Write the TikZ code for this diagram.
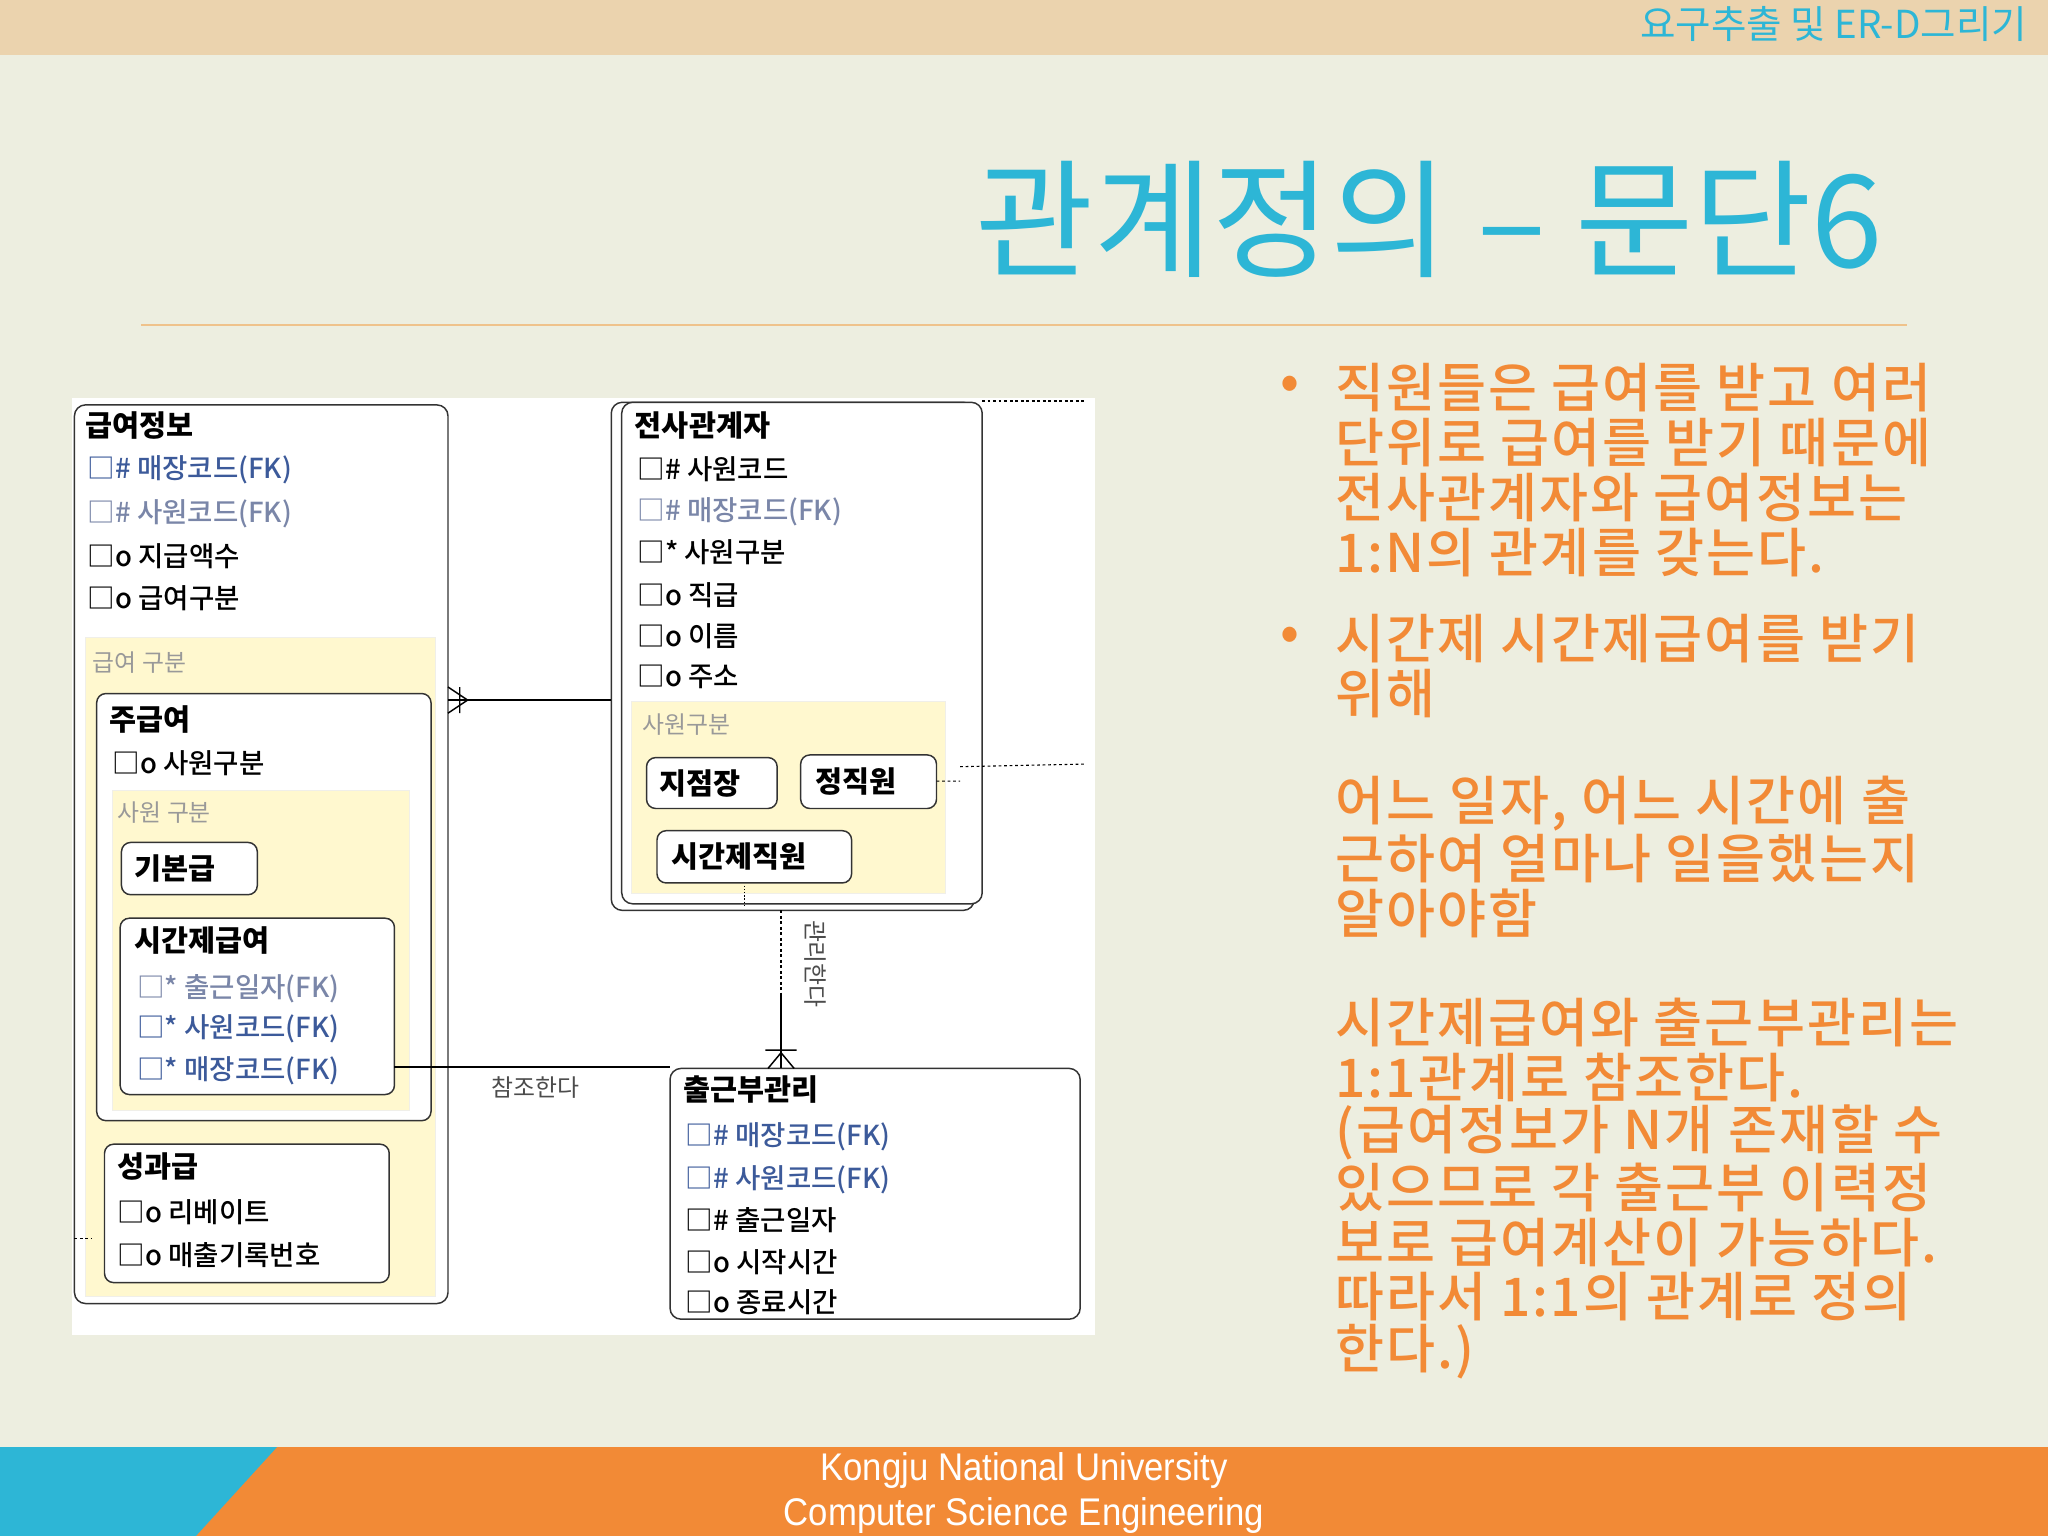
\documentclass[tikz,border=0pt]{standalone}
\usepackage{fontspec}
\setmainfont{Liberation Sans}
\newfontfamily\kr{Noto Sans CJK KR}
\newfontfamily\krm{Noto Sans CJK KR Medium}
\usetikzlibrary{arrows.meta}
\definecolor{bg}{HTML}{EDEEE0}
\definecolor{band}{HTML}{EBD3AE}
\definecolor{cy}{HTML}{2DB6D6}
\definecolor{org}{HTML}{F28A36}
\definecolor{ylw}{HTML}{FFF8CF}
\definecolor{fkb}{HTML}{3C5A9A}
\definecolor{fkg}{HTML}{7A86A8}
\tikzset{
 ent/.style={draw=black!80,line width=1.6pt,rounded corners=12pt},
 sub/.style={draw=black!80,line width=1.6pt,rounded corners=10pt},
 zone/.style={fill=ylw,draw=ylw!70!black!20},
 attr/.style={anchor=west,inner sep=0pt,font=\krm\fontsize{30}{32}\selectfont},
 tt/.style={anchor=west,inner sep=0pt,font=\kr\bfseries\fontsize{32}{34}\selectfont},
 zl/.style={anchor=west,inner sep=0pt,font=\kr\fontsize{26}{28}\selectfont,text=black!40},
 bl/.style={anchor=west,inner sep=0pt,font=\krm\fontsize{58}{60}\selectfont,text=org},
}
\begin{document}
\begin{tikzpicture}[x=0.5mm,y=-0.5mm]
\useasboundingbox (0,0) rectangle (1568,1176);
\fill[bg] (0,0) rectangle (1568,1176);
\fill[band] (0,0) rectangle (1568,42);
\node[anchor=east,inner sep=0pt,text=cy,font=\kr\fontsize{42}{44}\selectfont] (hdr) at (1552,18) {요구추출 및 ER-D그리기};
\node[anchor=east,inner sep=0pt,text=cy,font=\kr\fontsize{140}{140}\selectfont] (ttl) at (1442,168) {관계정의 – 문단6};
\draw[color=band!80!orange,line width=2pt] (108,249) -- (1460,249);
% footer
\fill[org] (0,1108) rectangle (1568,1176);
\fill[cy] (0,1108) -- (212,1108) -- (150,1176) -- (0,1176) -- cycle;
\node[inner sep=0pt,text=white,font=\fontsize{42}{44}\selectfont] (f1) at (784,1126) {\addfontfeature{FakeStretch=0.9}Kongju National University};
\node[inner sep=0pt,text=white,font=\fontsize{42}{44}\selectfont] (f2) at (784,1160) {\addfontfeature{FakeStretch=0.9}Computer Science Engineering};
% diagram
\fill[white] (55,305) rectangle (838,1022);
% entity 1
\draw[ent] (57,310) rectangle (343,998);
\node[tt] (e1) at (65,326) {급여정보};
\node[attr,text=fkb] at (67,360) {□\# 매장코드(FK)};
\node[attr,text=fkg] at (67,393) {□\# 사원코드(FK)};
\node[attr] at (67,426) {□o 지급액수};
\node[attr] at (67,458) {□o 급여구분};
\fill[zone] (65,488) rectangle (333,992);
\node[zl] at (71,507) {급여 구분};
\draw[sub,fill=white] (74,531) rectangle (330,858);
\node[tt] at (84,551) {주급여};
\node[attr] at (86,584) {□o 사원구분};
\fill[zone] (86,605) rectangle (313,850);
\node[zl] at (90,622) {사원 구분};
\draw[sub,fill=white] (93,645) rectangle (197,685);
\node[tt] at (103,665) {기본급};
\draw[sub,fill=white] (92,703) rectangle (302,838);
\node[tt] (p1) at (103,720) {시간제급여};
\node[attr,text=fkg] at (105,757) {□* 출근일자(FK)};
\node[attr,text=fkb] at (105,788) {□* 사원코드(FK)};
\node[attr,text=fkb] at (105,820) {□* 매장코드(FK)};
\coordinate (pr) at (302,817);
\draw[sub,fill=white] (80,876) rectangle (298,982);
\node[tt] at (90,893) {성과급};
\node[attr] at (90,928) {□o 리베이트};
\node[attr] at (90,961) {□o 매출기록번호};
\draw[dashed] (57,948) -- (70,948);
% entity 2
\draw[ent] (468,308) rectangle (746,697);
\draw[ent,fill=white] (476,308) rectangle (752,692);
\node[tt] (e2) at (486,326) {전사관계자};
\node[attr] at (488,359) {□\# 사원코드};
\node[attr,text=fkg] at (488,392) {□\# 매장코드(FK)};
\node[attr] at (488,423) {□* 사원구분};
\node[attr] at (488,456) {□o 직급};
\node[attr] at (488,487) {□o 이름};
\node[attr] at (488,518) {□o 주소};
\fill[zone] (483,537) rectangle (724,684);
\node[zl] at (492,555) {사원구분};
\draw[sub,fill=white] (495,580) rectangle (595,619);
\node[tt] at (505,600) {지점장};
\draw[sub,fill=white] (613,578) rectangle (717,619);
\node[tt] at (624,598) {정직원};
\draw[sub,fill=white] (503,636) rectangle (652,676);
\node[tt] at (514,656) {시간제직원};
\draw[dashed,line width=1.2pt] (752,307) -- (830,307);
\draw[dashed,line width=1.2pt] (717,598) -- (735,598) (735,587) -- (830,585);
\draw[dotted,line width=1.5pt] (570,678) -- (570,694);
% relation 1:N
\draw[line width=1.6pt] (343,536) -- (468,536);
\draw[line width=1.6pt] (352,526) -- (352,546) (343,526) -- (358,536) -- (343,546);
% entity 3
\draw[ent] (513,818) rectangle (827,1010);
\node[tt] (e3) at (523,834) {출근부관리};
\node[attr,text=fkb] at (525,870) {□\# 매장코드(FK)};
\node[attr,text=fkb] at (525,903) {□\# 사원코드(FK)};
\node[attr] at (525,934) {□\# 출근일자};
\node[attr] at (525,966) {□o 시작시간};
\node[attr] at (525,997) {□o 종료시간};
\fill[white] (510,1011) rectangle (838,1022);
% relations
\draw[dashed,line width=1.6pt] (598,697) -- (598,760);
\draw[line width=1.6pt] (598,760) -- (598,818);
\draw[line width=1.6pt] (586,804) -- (610,804) (588,818) -- (598,806) -- (608,818);
\node[zl,text=black!70,rotate=-90,anchor=center] at (624,738) {관리한다};
\draw[line width=1.6pt] (pr) -- (513,817);
\node[zl,text=black!70,anchor=center] at (410,833) {참조한다};
% bullets
\foreach \y/\t in {297/직원들은 급여를 받고 여러,339/단위로 급여를 받기 때문에,381/전사관계자와 급여정보는,423/1:N의 관계를 갖는다.,489/시간제 시간제급여를 받기,531/위해,615/{어느 일자, 어느 시간에 출},657/근하여 얼마나 일을했는지,699/알아야함,783/시간제급여와 출근부관리는,825/1:1관계로 참조한다.,867/(급여정보가 N개 존재할 수,909/있으므로 각 출근부 이력정,951/보로 급여계산이 가능하다.,993/따라서 1:1의 관계로 정의,1035/한다.)}
  \node[bl] at (1022,\y) {\addfontfeature{LetterSpace=4}\t};
\node[bl] (b1) at (980,297) {•};
\node[bl] (b2) at (980,489) {•};
\end{tikzpicture}
\end{document}
